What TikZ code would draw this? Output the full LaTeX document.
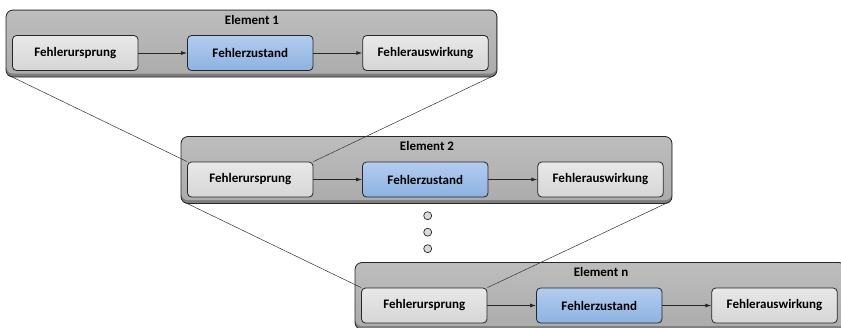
\documentclass[tikz,border=0pt]{standalone}
\usepackage{fontspec}
\setmainfont{Carlito}
\usetikzlibrary{arrows.meta,positioning}
\definecolor{frametop}{HTML}{BDBDBD}
\definecolor{framebot}{HTML}{ACACAC}
\definecolor{framerim}{HTML}{7E7E7E}
\definecolor{greytop}{HTML}{E8E8E8}
\definecolor{greybot}{HTML}{D6D6D6}
\definecolor{bluetop}{HTML}{B3CCEE}
\definecolor{bluebot}{HTML}{8DB2E2}
\definecolor{dotfill}{HTML}{DADADA}
\begin{document}
\begin{tikzpicture}[x=1pt,y=-1pt,
  greybox/.style={draw=black!85,line width=0.8pt,rounded corners=4pt,
    top color=greytop,bottom color=greybot,minimum width=125.5pt,minimum height=35pt,
    inner sep=0pt,font=\bfseries\fontsize{13}{15}\selectfont},
  bluebox/.style={greybox,top color=bluetop,bottom color=bluebot},
  titletext/.style={font=\bfseries\fontsize{13}{15}\selectfont,inner sep=0pt},
  flow/.style={draw=black!85,line width=0.8pt,-{Latex[length=6pt,width=4pt]}},
  zoomline/.style={draw=black!80,line width=0.5pt},
  dot/.style={circle,draw=black!85,fill=dotfill,line width=0.7pt,minimum size=8pt,inner sep=0pt}]
\useasboundingbox (0,0) rectangle (841,327);
\clip (0,0) rectangle (841,327);

% one element: frame, title and the chain of three states
\foreach \id/\ox/\oy/\lbl in {1/6/10/1, 2/181/136.5/2, 3/355/262.5/n}{
  \begin{scope}[shift={(\ox,\oy)}]
    \fill[framerim,rounded corners=7pt] (0,0) rectangle (491,67);
    \shade[top color=frametop,bottom color=framebot,rounded corners=6pt] (0.5,0.5) rectangle (490.5,63.5);
    \draw[black!85,line width=0.8pt,rounded corners=7pt] (0,0) rectangle (491,67);
    \coordinate (e\id-sw) at (2,65);
    \coordinate (e\id-se) at (489,65);
    \node[titletext] (t\id) at (246,9.5) {Element \lbl};
    \node[greybox] (u\id) at (69.25,43) {Fehlerursprung};
    \node[bluebox] (z\id) at (244.25,43) {Fehlerzustand};
    \node[greybox] (a\id) at (419.5,43) {Fehlerauswirkung};
    \draw[flow] (u\id) -- (z\id);
    \draw[flow] (z\id) -- (a\id);
  \end{scope}
}

% zoom lines from one element into the cause of the next
\draw[zoomline] (e1-sw) -- (u2.north west);
\draw[zoomline] (e1-se) -- (u2.north east);
\draw[zoomline] (e2-sw) -- (u3.north west);
\draw[zoomline] (e2-se) -- (u3.north east);

% continuation dots
\node[dot] (d1) at (427.7,215.7) {};
\node[dot] (d2) at (427.7,232.2) {};
\node[dot] (d3) at (427.7,248.7) {};
\end{tikzpicture}
\end{document}
